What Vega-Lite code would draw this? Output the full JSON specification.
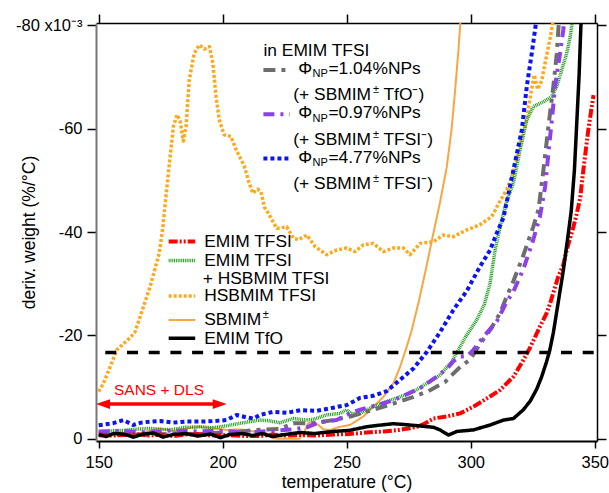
{
 "$schema": "https://vega.github.io/schema/vega-lite/v6.json",
 "width": 501,
 "height": 418,
 "autosize": {"type": "none"},
 "padding": {"left": 96, "top": 23, "right": 12, "bottom": 52},
 "background": "white",
 "config": {
  "font": "Liberation Sans",
  "view": {"stroke": null},
  "axis": {"grid": false, "labelFont": "Liberation Sans", "titleFont": "Liberation Sans", "labelColor": "#000", "titleColor": "#000"},
  "text": {"font": "Liberation Sans", "fontSize": 17.4, "color": "#000", "align": "left", "baseline": "alphabetic"}
 },
 "resolve": {"axis": {"x": "independent", "y": "independent"}},
 "datasets": {
  "series": [
   {"s":"HSBMIM TFSI","t":150,"w":-9.1},{"s":"HSBMIM TFSI","t":151.9,"w":-10.7},{"s":"HSBMIM TFSI","t":154.6,"w":-13.9},{"s":"HSBMIM TFSI","t":157.3,"w":-17.2},{"s":"HSBMIM TFSI","t":159.3,"w":-18.1},{"s":"HSBMIM TFSI","t":162.3,"w":-19.4},{"s":"HSBMIM TFSI","t":164.5,"w":-20.5},{"s":"HSBMIM TFSI","t":166.7,"w":-23.6},{"s":"HSBMIM TFSI","t":170.7,"w":-29.4},{"s":"HSBMIM TFSI","t":174.4,"w":-35.9},{"s":"HSBMIM TFSI","t":175.8,"w":-40.7},{"s":"HSBMIM TFSI","t":177.1,"w":-46.9},{"s":"HSBMIM TFSI","t":178.5,"w":-53.3},{"s":"HSBMIM TFSI","t":180.1,"w":-60.4},{"s":"HSBMIM TFSI","t":181.6,"w":-62.7},{"s":"HSBMIM TFSI","t":182.8,"w":-61.5},{"s":"HSBMIM TFSI","t":184.1,"w":-57.6},{"s":"HSBMIM TFSI","t":185.2,"w":-60.4},{"s":"HSBMIM TFSI","t":186.5,"w":-69.4},{"s":"HSBMIM TFSI","t":188.5,"w":-74.6},{"s":"HSBMIM TFSI","t":190.6,"w":-76.2},{"s":"HSBMIM TFSI","t":192.6,"w":-75.4},{"s":"HSBMIM TFSI","t":194.6,"w":-75.9},{"s":"HSBMIM TFSI","t":196.0,"w":-72.7},{"s":"HSBMIM TFSI","t":197.3,"w":-66.2},{"s":"HSBMIM TFSI","t":198.6,"w":-61.7},{"s":"HSBMIM TFSI","t":200.6,"w":-58.8},{"s":"HSBMIM TFSI","t":203.3,"w":-58.5},{"s":"HSBMIM TFSI","t":205.4,"w":-55.9},{"s":"HSBMIM TFSI","t":207.4,"w":-54.0},{"s":"HSBMIM TFSI","t":208.7,"w":-52.7},{"s":"HSBMIM TFSI","t":210.7,"w":-49.4},{"s":"HSBMIM TFSI","t":212.1,"w":-47.5},{"s":"HSBMIM TFSI","t":214.1,"w":-48.3},{"s":"HSBMIM TFSI","t":215.4,"w":-47.8},{"s":"HSBMIM TFSI","t":216.8,"w":-44.8},{"s":"HSBMIM TFSI","t":218.4,"w":-43.6},{"s":"HSBMIM TFSI","t":221.8,"w":-40.7},{"s":"HSBMIM TFSI","t":225.8,"w":-41.0},{"s":"HSBMIM TFSI","t":228.5,"w":-38.8},{"s":"HSBMIM TFSI","t":230.5,"w":-38.5},{"s":"HSBMIM TFSI","t":233.9,"w":-39.4},{"s":"HSBMIM TFSI","t":237.2,"w":-37.2},{"s":"HSBMIM TFSI","t":241.9,"w":-35.6},{"s":"HSBMIM TFSI","t":245.9,"w":-36.5},{"s":"HSBMIM TFSI","t":250.0,"w":-36.9},{"s":"HSBMIM TFSI","t":253.3,"w":-36.2},{"s":"HSBMIM TFSI","t":256.7,"w":-37.5},{"s":"HSBMIM TFSI","t":260.7,"w":-37.8},{"s":"HSBMIM TFSI","t":264.8,"w":-36.2},{"s":"HSBMIM TFSI","t":268.8,"w":-36.9},{"s":"HSBMIM TFSI","t":272.8,"w":-36.9},{"s":"HSBMIM TFSI","t":275.5,"w":-35.6},{"s":"HSBMIM TFSI","t":279.6,"w":-37.8},{"s":"HSBMIM TFSI","t":284.9,"w":-38.1},{"s":"HSBMIM TFSI","t":288.9,"w":-39.4},{"s":"HSBMIM TFSI","t":293.0,"w":-39.1},{"s":"HSBMIM TFSI","t":298.4,"w":-40.4},{"s":"HSBMIM TFSI","t":303.7,"w":-41.4},{"s":"HSBMIM TFSI","t":308.5,"w":-43.0},{"s":"HSBMIM TFSI","t":311.8,"w":-46.0},{"s":"HSBMIM TFSI","t":314.5,"w":-48.2},{"s":"HSBMIM TFSI","t":317.2,"w":-51.6},{"s":"HSBMIM TFSI","t":319.9,"w":-57.2},{"s":"HSBMIM TFSI","t":322.6,"w":-62.0},{"s":"HSBMIM TFSI","t":324.3,"w":-67.0},{"s":"HSBMIM TFSI","t":325.6,"w":-70.4},{"s":"HSBMIM TFSI","t":327.0,"w":-67.6},{"s":"HSBMIM TFSI","t":328.6,"w":-69.3},{"s":"HSBMIM TFSI","t":330.3,"w":-73.5},{"s":"HSBMIM TFSI","t":332.0,"w":-77.5},{"s":"HSBMIM TFSI","t":333.1,"w":-80.5},
   {"s":"SBMIM±","t":150,"w":-1.4},{"s":"SBMIM±","t":152.5,"w":-1.0},{"s":"SBMIM±","t":154.6,"w":-0.7},{"s":"SBMIM±","t":158.6,"w":-1.2},{"s":"SBMIM±","t":161,"w":-1.0},{"s":"SBMIM±","t":164,"w":-0.7},{"s":"SBMIM±","t":169.4,"w":-1.4},{"s":"SBMIM±","t":174.7,"w":-2.0},{"s":"SBMIM±","t":177.5,"w":-1.7},{"s":"SBMIM±","t":180,"w":-1.4},{"s":"SBMIM±","t":185.5,"w":-2.0},{"s":"SBMIM±","t":190.8,"w":-2.3},{"s":"SBMIM±","t":196.2,"w":-2.0},{"s":"SBMIM±","t":201.6,"w":-1.7},{"s":"SBMIM±","t":207,"w":-1.8},{"s":"SBMIM±","t":212.3,"w":-1.4},{"s":"SBMIM±","t":217.7,"w":-1.0},{"s":"SBMIM±","t":220.4,"w":-0.1},{"s":"SBMIM±","t":222,"w":0},{"s":"SBMIM±","t":231,"w":0},{"s":"SBMIM±","t":233,"w":-1.5},{"s":"SBMIM±","t":234.5,"w":-3.0},{"s":"SBMIM±","t":236.5,"w":-3.3},{"s":"SBMIM±","t":238.6,"w":-2.65},{"s":"SBMIM±","t":240.6,"w":-1.8},{"s":"SBMIM±","t":243.3,"w":-1.7},{"s":"SBMIM±","t":247.3,"w":-2.3},{"s":"SBMIM±","t":251.3,"w":-2.65},{"s":"SBMIM±","t":256.7,"w":-4.3},{"s":"SBMIM±","t":260.7,"w":-6.2},{"s":"SBMIM±","t":264.8,"w":-8.1},{"s":"SBMIM±","t":268.8,"w":-10.7},{"s":"SBMIM±","t":271.5,"w":-13.9},{"s":"SBMIM±","t":274.2,"w":-17.8},{"s":"SBMIM±","t":276.2,"w":-21.0},{"s":"SBMIM±","t":279,"w":-26.5},{"s":"SBMIM±","t":282,"w":-33},{"s":"SBMIM±","t":284.6,"w":-39},{"s":"SBMIM±","t":287.5,"w":-45.5},{"s":"SBMIM±","t":290.3,"w":-52.5},{"s":"SBMIM±","t":292.3,"w":-60},{"s":"SBMIM±","t":293.7,"w":-67.5},{"s":"SBMIM±","t":295,"w":-75},{"s":"SBMIM±","t":295.8,"w":-80.5},
   {"s":"EMIM TFSI + HSBMIM TFSI","t":150,"w":-1.3},{"s":"EMIM TFSI + HSBMIM TFSI","t":155,"w":-1.5},{"s":"EMIM TFSI + HSBMIM TFSI","t":160,"w":-1.6},{"s":"EMIM TFSI + HSBMIM TFSI","t":164,"w":-1.8},{"s":"EMIM TFSI + HSBMIM TFSI","t":170.7,"w":-2.0},{"s":"EMIM TFSI + HSBMIM TFSI","t":175,"w":-1.8},{"s":"EMIM TFSI + HSBMIM TFSI","t":180,"w":-1.8},{"s":"EMIM TFSI + HSBMIM TFSI","t":185,"w":-2.2},{"s":"EMIM TFSI + HSBMIM TFSI","t":190.8,"w":-2.3},{"s":"EMIM TFSI + HSBMIM TFSI","t":196,"w":-2.1},{"s":"EMIM TFSI + HSBMIM TFSI","t":201.6,"w":-2.5},{"s":"EMIM TFSI + HSBMIM TFSI","t":206,"w":-2.9},{"s":"EMIM TFSI + HSBMIM TFSI","t":211,"w":-3.3},{"s":"EMIM TFSI + HSBMIM TFSI","t":214.9,"w":-3.6},{"s":"EMIM TFSI + HSBMIM TFSI","t":218,"w":-3.5},{"s":"EMIM TFSI + HSBMIM TFSI","t":223.1,"w":-3.1},{"s":"EMIM TFSI + HSBMIM TFSI","t":228.5,"w":-3.9},{"s":"EMIM TFSI + HSBMIM TFSI","t":233.9,"w":-3.6},{"s":"EMIM TFSI + HSBMIM TFSI","t":237,"w":-3.8},{"s":"EMIM TFSI + HSBMIM TFSI","t":241.9,"w":-4.6},{"s":"EMIM TFSI + HSBMIM TFSI","t":247.3,"w":-4.9},{"s":"EMIM TFSI + HSBMIM TFSI","t":250,"w":-5.6},{"s":"EMIM TFSI + HSBMIM TFSI","t":251.8,"w":-4.8},{"s":"EMIM TFSI + HSBMIM TFSI","t":255.4,"w":-4.9},{"s":"EMIM TFSI + HSBMIM TFSI","t":260.7,"w":-6.2},{"s":"EMIM TFSI + HSBMIM TFSI","t":266.1,"w":-7.2},{"s":"EMIM TFSI + HSBMIM TFSI","t":271.5,"w":-8.1},{"s":"EMIM TFSI + HSBMIM TFSI","t":276.9,"w":-9.1},{"s":"EMIM TFSI + HSBMIM TFSI","t":282.3,"w":-10.7},{"s":"EMIM TFSI + HSBMIM TFSI","t":287.6,"w":-12.3},{"s":"EMIM TFSI + HSBMIM TFSI","t":292.3,"w":-14.9},{"s":"EMIM TFSI + HSBMIM TFSI","t":295,"w":-17.2},{"s":"EMIM TFSI + HSBMIM TFSI","t":298.4,"w":-20.1},{"s":"EMIM TFSI + HSBMIM TFSI","t":302.4,"w":-23.0},{"s":"EMIM TFSI + HSBMIM TFSI","t":305.5,"w":-26.0},{"s":"EMIM TFSI + HSBMIM TFSI","t":307.8,"w":-30.1},{"s":"EMIM TFSI + HSBMIM TFSI","t":309.8,"w":-36.5},{"s":"EMIM TFSI + HSBMIM TFSI","t":312.5,"w":-42.3},{"s":"EMIM TFSI + HSBMIM TFSI","t":314.5,"w":-46.0},{"s":"EMIM TFSI + HSBMIM TFSI","t":317.2,"w":-49.5},{"s":"EMIM TFSI + HSBMIM TFSI","t":319.9,"w":-55.9},{"s":"EMIM TFSI + HSBMIM TFSI","t":322.6,"w":-61.7},{"s":"EMIM TFSI + HSBMIM TFSI","t":325.3,"w":-64.3},{"s":"EMIM TFSI + HSBMIM TFSI","t":329.3,"w":-65.2},{"s":"EMIM TFSI + HSBMIM TFSI","t":332.7,"w":-66.2},{"s":"EMIM TFSI + HSBMIM TFSI","t":334.7,"w":-68.2},{"s":"EMIM TFSI + HSBMIM TFSI","t":336.7,"w":-71.4},{"s":"EMIM TFSI + HSBMIM TFSI","t":338.7,"w":-74.6},{"s":"EMIM TFSI + HSBMIM TFSI","t":340.1,"w":-77.8},{"s":"EMIM TFSI + HSBMIM TFSI","t":340.9,"w":-80.5},
   {"s":"1.04% NPs","t":150,"w":-0.6},{"s":"1.04% NPs","t":160,"w":-0.8},{"s":"1.04% NPs","t":170,"w":-0.7},{"s":"1.04% NPs","t":180,"w":-1.0},{"s":"1.04% NPs","t":190.8,"w":-0.9},{"s":"1.04% NPs","t":200,"w":-1.2},{"s":"1.04% NPs","t":206,"w":-1.3},{"s":"1.04% NPs","t":213.5,"w":-1.7},{"s":"1.04% NPs","t":223.1,"w":-1.9},{"s":"1.04% NPs","t":228.5,"w":-3.0},{"s":"1.04% NPs","t":236.5,"w":-3.0},{"s":"1.04% NPs","t":244.6,"w":-3.6},{"s":"1.04% NPs","t":252.4,"w":-4.4},{"s":"1.04% NPs","t":260.7,"w":-5.6},{"s":"1.04% NPs","t":268.8,"w":-6.8},{"s":"1.04% NPs","t":276.9,"w":-8.1},{"s":"1.04% NPs","t":283,"w":-9.2},{"s":"1.04% NPs","t":286.3,"w":-10.1},{"s":"1.04% NPs","t":289.7,"w":-11.0},{"s":"1.04% NPs","t":291.7,"w":-12.0},{"s":"1.04% NPs","t":295.8,"w":-13.9},{"s":"1.04% NPs","t":299.7,"w":-15.3},{"s":"1.04% NPs","t":303.7,"w":-18.3},{"s":"1.04% NPs","t":307.8,"w":-21.0},{"s":"1.04% NPs","t":311.8,"w":-24.3},{"s":"1.04% NPs","t":314.5,"w":-27.5},{"s":"1.04% NPs","t":317.2,"w":-30.5},{"s":"1.04% NPs","t":321.2,"w":-35.5},{"s":"1.04% NPs","t":325.2,"w":-41.0},{"s":"1.04% NPs","t":327.3,"w":-44.3},{"s":"1.04% NPs","t":329.3,"w":-52.0},{"s":"1.04% NPs","t":331.3,"w":-60.4},{"s":"1.04% NPs","t":333.3,"w":-68.2},{"s":"1.04% NPs","t":334.7,"w":-74.6},{"s":"1.04% NPs","t":335.5,"w":-80.5},
   {"s":"0.97% NPs","t":150,"w":-1.4},{"s":"0.97% NPs","t":160,"w":-1.5},{"s":"0.97% NPs","t":170,"w":-1.2},{"s":"0.97% NPs","t":180,"w":-1.6},{"s":"0.97% NPs","t":190,"w":-1.4},{"s":"0.97% NPs","t":200,"w":-1.5},{"s":"0.97% NPs","t":210,"w":-1.2},{"s":"0.97% NPs","t":220,"w":-1.5},{"s":"0.97% NPs","t":228.5,"w":-1.8},{"s":"0.97% NPs","t":233.9,"w":-2.2},{"s":"0.97% NPs","t":237.9,"w":-3.0},{"s":"0.97% NPs","t":241,"w":-3.3},{"s":"0.97% NPs","t":245.9,"w":-3.6},{"s":"0.97% NPs","t":251.3,"w":-4.9},{"s":"0.97% NPs","t":255.4,"w":-5.6},{"s":"0.97% NPs","t":262.1,"w":-6.5},{"s":"0.97% NPs","t":268.8,"w":-7.4},{"s":"0.97% NPs","t":274.2,"w":-8.6},{"s":"0.97% NPs","t":279.6,"w":-9.8},{"s":"0.97% NPs","t":286.3,"w":-12.0},{"s":"0.97% NPs","t":290.5,"w":-13.6},{"s":"0.97% NPs","t":293,"w":-15.0},{"s":"0.97% NPs","t":295.8,"w":-15.9},{"s":"0.97% NPs","t":298.4,"w":-15.9},{"s":"0.97% NPs","t":301.1,"w":-17.2},{"s":"0.97% NPs","t":305.1,"w":-19.7},{"s":"0.97% NPs","t":310.5,"w":-22.7},{"s":"0.97% NPs","t":314.5,"w":-26.5},{"s":"0.97% NPs","t":317.2,"w":-28.5},{"s":"0.97% NPs","t":321.2,"w":-32.8},{"s":"0.97% NPs","t":325.2,"w":-38.5},{"s":"0.97% NPs","t":327.9,"w":-43.0},{"s":"0.97% NPs","t":330,"w":-48.8},{"s":"0.97% NPs","t":331.3,"w":-55.2},{"s":"0.97% NPs","t":332.7,"w":-61.7},{"s":"0.97% NPs","t":334,"w":-68.2},{"s":"0.97% NPs","t":336,"w":-74.6},{"s":"0.97% NPs","t":337.3,"w":-79.1},{"s":"0.97% NPs","t":337.6,"w":-80.5},
   {"s":"4.77% NPs","t":150,"w":-2.6},{"s":"4.77% NPs","t":155.9,"w":-3.0},{"s":"4.77% NPs","t":159.9,"w":-3.6},{"s":"4.77% NPs","t":163.9,"w":-2.65},{"s":"4.77% NPs","t":167,"w":-3.1},{"s":"4.77% NPs","t":170.7,"w":-3.3},{"s":"4.77% NPs","t":175,"w":-3.4},{"s":"4.77% NPs","t":180,"w":-3.1},{"s":"4.77% NPs","t":185,"w":-3.3},{"s":"4.77% NPs","t":190.8,"w":-3.3},{"s":"4.77% NPs","t":196,"w":-3.4},{"s":"4.77% NPs","t":201.6,"w":-3.6},{"s":"4.77% NPs","t":205.6,"w":-4.6},{"s":"4.77% NPs","t":209,"w":-4.2},{"s":"4.77% NPs","t":212.4,"w":-3.9},{"s":"4.77% NPs","t":215,"w":-4.6},{"s":"4.77% NPs","t":220.4,"w":-5.2},{"s":"4.77% NPs","t":225.8,"w":-5.0},{"s":"4.77% NPs","t":231.2,"w":-5.5},{"s":"4.77% NPs","t":237.9,"w":-5.4},{"s":"4.77% NPs","t":244.6,"w":-6.0},{"s":"4.77% NPs","t":250,"w":-6.5},{"s":"4.77% NPs","t":255.4,"w":-7.9},{"s":"4.77% NPs","t":260.7,"w":-8.3},{"s":"4.77% NPs","t":266.1,"w":-9.2},{"s":"4.77% NPs","t":271.5,"w":-11.4},{"s":"4.77% NPs","t":276.9,"w":-13.6},{"s":"4.77% NPs","t":282.3,"w":-16.8},{"s":"4.77% NPs","t":287.6,"w":-20.6},{"s":"4.77% NPs","t":293,"w":-24.9},{"s":"4.77% NPs","t":298.4,"w":-28.6},{"s":"4.77% NPs","t":303.7,"w":-33.3},{"s":"4.77% NPs","t":307.8,"w":-36.5},{"s":"4.77% NPs","t":310.5,"w":-39.8},{"s":"4.77% NPs","t":313.2,"w":-42.8},{"s":"4.77% NPs","t":317.2,"w":-52.0},{"s":"4.77% NPs","t":320.6,"w":-59.8},{"s":"4.77% NPs","t":322.6,"w":-68.2},{"s":"4.77% NPs","t":324.6,"w":-74.6},{"s":"4.77% NPs","t":325.9,"w":-79.1},{"s":"4.77% NPs","t":326.3,"w":-80.5},
   {"s":"EMIM TFSI","t":150,"w":-0.8},{"s":"EMIM TFSI","t":155,"w":-0.6},{"s":"EMIM TFSI","t":160,"w":-0.7},{"s":"EMIM TFSI","t":165,"w":-0.9},{"s":"EMIM TFSI","t":170,"w":-0.6},{"s":"EMIM TFSI","t":175,"w":-0.8},{"s":"EMIM TFSI","t":180,"w":-0.5},{"s":"EMIM TFSI","t":185,"w":-0.8},{"s":"EMIM TFSI","t":190,"w":-0.9},{"s":"EMIM TFSI","t":195,"w":-0.6},{"s":"EMIM TFSI","t":200,"w":-0.7},{"s":"EMIM TFSI","t":205,"w":-0.6},{"s":"EMIM TFSI","t":210,"w":-0.5},{"s":"EMIM TFSI","t":215,"w":-0.5},{"s":"EMIM TFSI","t":220,"w":-0.8},{"s":"EMIM TFSI","t":225,"w":-0.6},{"s":"EMIM TFSI","t":231.2,"w":-0.7},{"s":"EMIM TFSI","t":237,"w":-0.6},{"s":"EMIM TFSI","t":244.6,"w":-0.8},{"s":"EMIM TFSI","t":251,"w":-0.9},{"s":"EMIM TFSI","t":258,"w":-1.2},{"s":"EMIM TFSI","t":265,"w":-1.4},{"s":"EMIM TFSI","t":271.5,"w":-1.7},{"s":"EMIM TFSI","t":278.2,"w":-2.3},{"s":"EMIM TFSI","t":281,"w":-2.8},{"s":"EMIM TFSI","t":284.9,"w":-3.9},{"s":"EMIM TFSI","t":290.3,"w":-4.3},{"s":"EMIM TFSI","t":295.7,"w":-4.9},{"s":"EMIM TFSI","t":301.1,"w":-6.2},{"s":"EMIM TFSI","t":306.5,"w":-7.8},{"s":"EMIM TFSI","t":311.8,"w":-9.4},{"s":"EMIM TFSI","t":317.2,"w":-12.0},{"s":"EMIM TFSI","t":321.2,"w":-15.2},{"s":"EMIM TFSI","t":323.9,"w":-17.6},{"s":"EMIM TFSI","t":327.9,"w":-21.7},{"s":"EMIM TFSI","t":330.6,"w":-24.3},{"s":"EMIM TFSI","t":332,"w":-26.2},{"s":"EMIM TFSI","t":335.3,"w":-31.4},{"s":"EMIM TFSI","t":337.3,"w":-33.6},{"s":"EMIM TFSI","t":338.7,"w":-36.5},{"s":"EMIM TFSI","t":341.4,"w":-41.0},{"s":"EMIM TFSI","t":342.7,"w":-43.5},{"s":"EMIM TFSI","t":344.1,"w":-46.5},{"s":"EMIM TFSI","t":345.4,"w":-52.0},{"s":"EMIM TFSI","t":347.4,"w":-59.8},{"s":"EMIM TFSI","t":348.8,"w":-64.3},{"s":"EMIM TFSI","t":349.5,"w":-66.5},
   {"s":"EMIM TfO","t":150,"w":-0.8},{"s":"EMIM TfO","t":153,"w":-0.4},{"s":"EMIM TfO","t":156,"w":-1.0},{"s":"EMIM TfO","t":160,"w":-0.9},{"s":"EMIM TfO","t":164,"w":-0.3},{"s":"EMIM TfO","t":168,"w":-0.9},{"s":"EMIM TfO","t":172,"w":-1.1},{"s":"EMIM TfO","t":176,"w":-0.3},{"s":"EMIM TfO","t":180,"w":-0.8},{"s":"EMIM TfO","t":185,"w":-1.0},{"s":"EMIM TfO","t":190,"w":-0.5},{"s":"EMIM TfO","t":195,"w":-0.9},{"s":"EMIM TfO","t":199,"w":-0.2},{"s":"EMIM TfO","t":203,"w":-0.8},{"s":"EMIM TfO","t":208,"w":-1.0},{"s":"EMIM TfO","t":212,"w":-0.6},{"s":"EMIM TfO","t":216,"w":-1.0},{"s":"EMIM TfO","t":220,"w":-0.4},{"s":"EMIM TfO","t":225,"w":-0.8},{"s":"EMIM TfO","t":231.2,"w":-1.2},{"s":"EMIM TfO","t":237,"w":-1.0},{"s":"EMIM TfO","t":244.6,"w":-1.4},{"s":"EMIM TfO","t":251,"w":-1.6},{"s":"EMIM TfO","t":258,"w":-2.3},{"s":"EMIM TfO","t":263,"w":-2.6},{"s":"EMIM TfO","t":268.8,"w":-2.9},{"s":"EMIM TfO","t":274.2,"w":-2.7},{"s":"EMIM TfO","t":280.9,"w":-2.4},{"s":"EMIM TfO","t":285,"w":-2.2},{"s":"EMIM TfO","t":287.6,"w":-1.7},{"s":"EMIM TfO","t":291,"w":-0.7},{"s":"EMIM TfO","t":294.4,"w":-1.4},{"s":"EMIM TfO","t":301.1,"w":-1.7},{"s":"EMIM TfO","t":307.8,"w":-2.65},{"s":"EMIM TfO","t":313.2,"w":-3.6},{"s":"EMIM TfO","t":317.2,"w":-3.9},{"s":"EMIM TfO","t":321.2,"w":-5.6},{"s":"EMIM TfO","t":324,"w":-7.3},{"s":"EMIM TfO","t":326.6,"w":-9.6},{"s":"EMIM TfO","t":328.6,"w":-12.0},{"s":"EMIM TfO","t":330.5,"w":-14.8},{"s":"EMIM TfO","t":331.8,"w":-17.0},{"s":"EMIM TfO","t":333.3,"w":-20.5},{"s":"EMIM TfO","t":335.3,"w":-26.5},{"s":"EMIM TfO","t":337.3,"w":-32.5},{"s":"EMIM TfO","t":339,"w":-38.5},{"s":"EMIM TfO","t":340.5,"w":-44},{"s":"EMIM TfO","t":341.8,"w":-52},{"s":"EMIM TfO","t":342.8,"w":-61.7},{"s":"EMIM TfO","t":343.7,"w":-70.5},{"s":"EMIM TfO","t":344.4,"w":-79.8},{"s":"EMIM TfO","t":344.5,"w":-80.5}
  ],
  "legend": [
   {"grp":"L","s":"EMIM TFSI","x1":178.2,"x2":188.9,"y":-38.14,"label":"EMIM TFSI"},
   {"grp":"L","s":"EMIM TFSI + HSBMIM TFSI","x1":178.2,"x2":188.9,"y":-34.46,"label":"EMIM TFSI","label2":"+ HSBMIM TFSI"},
   {"grp":"L","s":"HSBMIM TFSI","x1":178.2,"x2":188.9,"y":-27.63,"label":"HSBMIM TFSI"},
   {"grp":"L","s":"SBMIM±","x1":178.2,"x2":188.9,"y":-22.98,"label":"SBMIM","sup":"±"},
   {"grp":"L","s":"EMIM TfO","x1":178.2,"x2":188.9,"y":-19.44,"label":"EMIM TfO"},
   {"grp":"R","s":"1.04% NPs","x1":216.4,"x2":227.1,"y":-71.37,"np":"=1.04%NPs","anion":"TfO⁻)"},
   {"grp":"R","s":"0.97% NPs","x1":216.4,"x2":227.1,"y":-62.81,"np":"=0.97%NPs","anion":"TFSI⁻)"},
   {"grp":"R","s":"4.77% NPs","x1":216.4,"x2":227.1,"y":-54.23,"np":"=4.77%NPs","anion":"TFSI⁻)"}
  ],
  "arrow": [{"from":148.9,"to":201.6,"level":-6.7}],
  "notes": [
   {"kind":"arrow","text":"SANS + DLS","x":174.3,"y":-8.5},
   {"kind":"head","text":"in EMIM TFSI","x":216.4,"y":-74.1}
  ]
 },
 "layer": [
  {
   "data": {"name": "series"},
   "mark": {"type": "line", "clip": true, "strokeCap": "butt", "strokeJoin": "round"},
   "encoding": {
    "x": {"field": "t", "type": "quantitative",
     "scale": {"domain": [148.9, 350.9], "nice": false, "zero": false},
     "axis": {"orient": "bottom", "values": [150, 200, 250, 300, 350], "title": "temperature (°C)",
      "labelFontSize": 16.5, "labelPadding": 6, "labelFlush": false, "tickSize": 7, "tickWidth": 1.5, "tickColor": "#000",
      "domainColor": "#000", "domainWidth": 2, "titleFontSize": 17.5, "titleFontWeight": "normal",
      "titleY": 46, "titleBaseline": "alphabetic"}},
    "y": {"field": "w", "type": "quantitative",
     "scale": {"domain": [0.45, -80.45], "nice": false, "zero": false},
     "axis": {"orient": "left", "values": [0, -20, -40, -60, -80],
      "labelExpr": "datum.value == -80 ? '-80 x10⁻³' : '' + datum.value",
      "title": "deriv. weight (%/°C)", "labelFontSize": 16.5, "labelPadding": 5, "tickSize": 9, "tickWidth": 1.5,
      "tickColor": "#000", "domainColor": "#777", "domainWidth": 2, "titleFontSize": 17.5, "titleFontWeight": "normal",
      "titleX": -67, "titleY": 209, "titleAngle": -90, "titleBaseline": "middle", "titleAlign": "center"}},
    "color": {"field": "s", "type": "nominal", "legend": null,
     "scale": {"domain": ["HSBMIM TFSI", "SBMIM±", "EMIM TFSI + HSBMIM TFSI", "1.04% NPs", "0.97% NPs", "4.77% NPs", "EMIM TFSI", "EMIM TfO"],
      "range": ["#fbaa1f", "#f7a645", "#229e22", "#6e6e6e", "#8c42e8", "#0a14f5", "#ff0000", "#000000"]}},
    "strokeDash": {"field": "s", "type": "nominal", "legend": null,
     "scale": {"domain": ["HSBMIM TFSI", "SBMIM±", "EMIM TFSI + HSBMIM TFSI", "1.04% NPs", "0.97% NPs", "4.77% NPs", "EMIM TFSI", "EMIM TfO"],
      "range": [[3, 2], [1, 0], [1, 0.8], [12, 6, 4, 6], [11, 6, 3, 6], [4, 3], [9, 2, 2, 2, 2, 2], [1, 0]]}},
    "strokeWidth": {"field": "s", "type": "nominal", "legend": null,
     "scale": {"type": "ordinal", "domain": ["HSBMIM TFSI", "SBMIM±", "EMIM TFSI + HSBMIM TFSI", "1.04% NPs", "0.97% NPs", "4.77% NPs", "EMIM TFSI", "EMIM TfO"],
      "range": [3.5, 2, 3.5, 4, 4, 4, 4, 3.5]}}
   }
  },
  {
   "data": {"name": "legend"},
   "mark": {"type": "rule", "strokeCap": "butt"},
   "encoding": {
    "x": {"field": "x1", "type": "quantitative",
     "axis": {"orient": "top", "values": [150, 200, 250, 300, 350], "labels": false, "title": null, "tickSize": 9,
      "tickWidth": 1.5, "tickColor": "#000", "domainColor": "#000", "domainWidth": 1.5}},
    "x2": {"field": "x2"},
    "y": {"field": "y", "type": "quantitative",
     "axis": {"orient": "right", "values": [0, -20, -40, -60, -80], "labels": false, "title": null, "tickSize": 9,
      "tickWidth": 1.5, "tickColor": "#000", "domainColor": "#000", "domainWidth": 1.5}},
    "color": {"field": "s", "type": "nominal", "legend": null,
     "scale": {"domain": ["HSBMIM TFSI", "SBMIM±", "EMIM TFSI + HSBMIM TFSI", "1.04% NPs", "0.97% NPs", "4.77% NPs", "EMIM TFSI", "EMIM TfO"],
      "range": ["#fbaa1f", "#f7a645", "#229e22", "#6e6e6e", "#8c42e8", "#0a14f5", "#ff0000", "#000000"]}},
    "strokeDash": {"field": "s", "type": "nominal", "legend": null,
     "scale": {"domain": ["HSBMIM TFSI", "SBMIM±", "EMIM TFSI + HSBMIM TFSI", "1.04% NPs", "0.97% NPs", "4.77% NPs", "EMIM TFSI", "EMIM TfO"],
      "range": [[3, 2], [1, 0], [1, 0.8], [12, 6, 4, 6], [11, 6, 3, 6], [4, 3], [9, 2, 2, 2, 2, 2], [1, 0]]}},
    "strokeWidth": {"field": "s", "type": "nominal", "legend": null,
     "scale": {"type": "ordinal", "domain": ["HSBMIM TFSI", "SBMIM±", "EMIM TFSI + HSBMIM TFSI", "1.04% NPs", "0.97% NPs", "4.77% NPs", "EMIM TFSI", "EMIM TfO"],
      "range": [3.5, 2, 3.5, 4, 4, 4, 4, 3.5]}}
   }
  },
  {
   "data": {"values": [{"level": -16.7}]},
   "mark": {"type": "rule", "color": "#000", "strokeWidth": 3.5, "strokeDash": [11, 10.7], "strokeDashOffset": 18.4, "strokeCap": "butt"},
   "encoding": {"y": {"field": "level", "type": "quantitative", "axis": null}}
  },
  {
   "data": {"name": "arrow"},
   "mark": {"type": "rule", "color": "#ff0000", "strokeWidth": 3.5, "xOffset": 8, "x2Offset": -8},
   "encoding": {
    "x": {"field": "from", "type": "quantitative", "axis": null},
    "x2": {"field": "to"},
    "y": {"field": "level", "type": "quantitative", "axis": null}
   }
  },
  {
   "data": {"name": "arrow"},
   "mark": {"type": "point", "shape": "M0,0L2,-0.7L2,0.7Z", "size": 196, "filled": true, "color": "#ff0000", "opacity": 1, "strokeWidth": 0},
   "encoding": {
    "x": {"field": "from", "type": "quantitative", "axis": null},
    "y": {"field": "level", "type": "quantitative", "axis": null}
   }
  },
  {
   "data": {"name": "arrow"},
   "mark": {"type": "point", "shape": "M0,0L-2,-0.7L-2,0.7Z", "size": 196, "filled": true, "color": "#ff0000", "opacity": 1, "strokeWidth": 0},
   "encoding": {
    "x": {"field": "to", "type": "quantitative", "axis": null},
    "y": {"field": "level", "type": "quantitative", "axis": null}
   }
  },
  {
   "data": {"name": "notes"},
   "transform": [{"filter": "datum.kind == 'arrow'"}],
   "mark": {"type": "text", "color": "#ff0000", "fontSize": 15.5, "align": "center"},
   "encoding": {
    "x": {"field": "x", "type": "quantitative", "axis": null},
    "y": {"field": "y", "type": "quantitative", "axis": null},
    "text": {"field": "text"}
   }
  },
  {
   "data": {"name": "notes"},
   "transform": [{"filter": "datum.kind == 'head'"}],
   "mark": {"type": "text"},
   "encoding": {
    "x": {"field": "x", "type": "quantitative", "axis": null},
    "y": {"field": "y", "type": "quantitative", "axis": null},
    "text": {"field": "text"}
   }
  },
  {
   "data": {"name": "legend"},
   "transform": [{"filter": "datum.grp == 'L'"}],
   "mark": {"type": "text", "dx": 9, "dy": 5.5},
   "encoding": {
    "x": {"field": "x2", "type": "quantitative", "axis": null},
    "y": {"field": "y", "type": "quantitative", "axis": null},
    "text": {"field": "label"}
   }
  },
  {
   "data": {"name": "legend"},
   "transform": [{"filter": "datum.label2"}],
   "mark": {"type": "text", "dx": 7.5, "dy": 23.1},
   "encoding": {
    "x": {"field": "x2", "type": "quantitative", "axis": null},
    "y": {"field": "y", "type": "quantitative", "axis": null},
    "text": {"field": "label2"}
   }
  },
  {
   "data": {"name": "legend"},
   "transform": [{"filter": "datum.sup"}],
   "mark": {"type": "text", "dx": 67.5, "dy": -2, "fontSize": 11},
   "encoding": {
    "x": {"field": "x2", "type": "quantitative", "axis": null},
    "y": {"field": "y", "type": "quantitative", "axis": null},
    "text": {"field": "sup"}
   }
  },
  {
   "data": {"name": "legend"},
   "transform": [{"filter": "datum.grp == 'R'"}],
   "mark": {"type": "text", "dx": 8.3, "dy": 4.3},
   "encoding": {
    "x": {"field": "x2", "type": "quantitative", "axis": null},
    "y": {"field": "y", "type": "quantitative", "axis": null},
    "text": {"value": "Φ"}
   }
  },
  {
   "data": {"name": "legend"},
   "transform": [{"filter": "datum.grp == 'R'"}],
   "mark": {"type": "text", "dx": 22.5, "dy": 7.5, "fontSize": 11},
   "encoding": {
    "x": {"field": "x2", "type": "quantitative", "axis": null},
    "y": {"field": "y", "type": "quantitative", "axis": null},
    "text": {"value": "NP"}
   }
  },
  {
   "data": {"name": "legend"},
   "transform": [{"filter": "datum.grp == 'R'"}],
   "mark": {"type": "text", "dx": 38.5, "dy": 4.3},
   "encoding": {
    "x": {"field": "x2", "type": "quantitative", "axis": null},
    "y": {"field": "y", "type": "quantitative", "axis": null},
    "text": {"field": "np"}
   }
  },
  {
   "data": {"name": "legend"},
   "transform": [{"filter": "datum.grp == 'R'"}],
   "mark": {"type": "text", "dx": 3.3, "dy": 30.5},
   "encoding": {
    "x": {"field": "x2", "type": "quantitative", "axis": null},
    "y": {"field": "y", "type": "quantitative", "axis": null},
    "text": {"value": "(+ SBMIM"}
   }
  },
  {
   "data": {"name": "legend"},
   "transform": [{"filter": "datum.grp == 'R'"}],
   "mark": {"type": "text", "dx": 83, "dy": 23.5, "fontSize": 11},
   "encoding": {
    "x": {"field": "x2", "type": "quantitative", "axis": null},
    "y": {"field": "y", "type": "quantitative", "axis": null},
    "text": {"value": "±"}
   }
  },
  {
   "data": {"name": "legend"},
   "transform": [{"filter": "datum.grp == 'R'"}],
   "mark": {"type": "text", "dx": 93.5, "dy": 30.5},
   "encoding": {
    "x": {"field": "x2", "type": "quantitative", "axis": null},
    "y": {"field": "y", "type": "quantitative", "axis": null},
    "text": {"field": "anion"}
   }
  }
 ]
}
